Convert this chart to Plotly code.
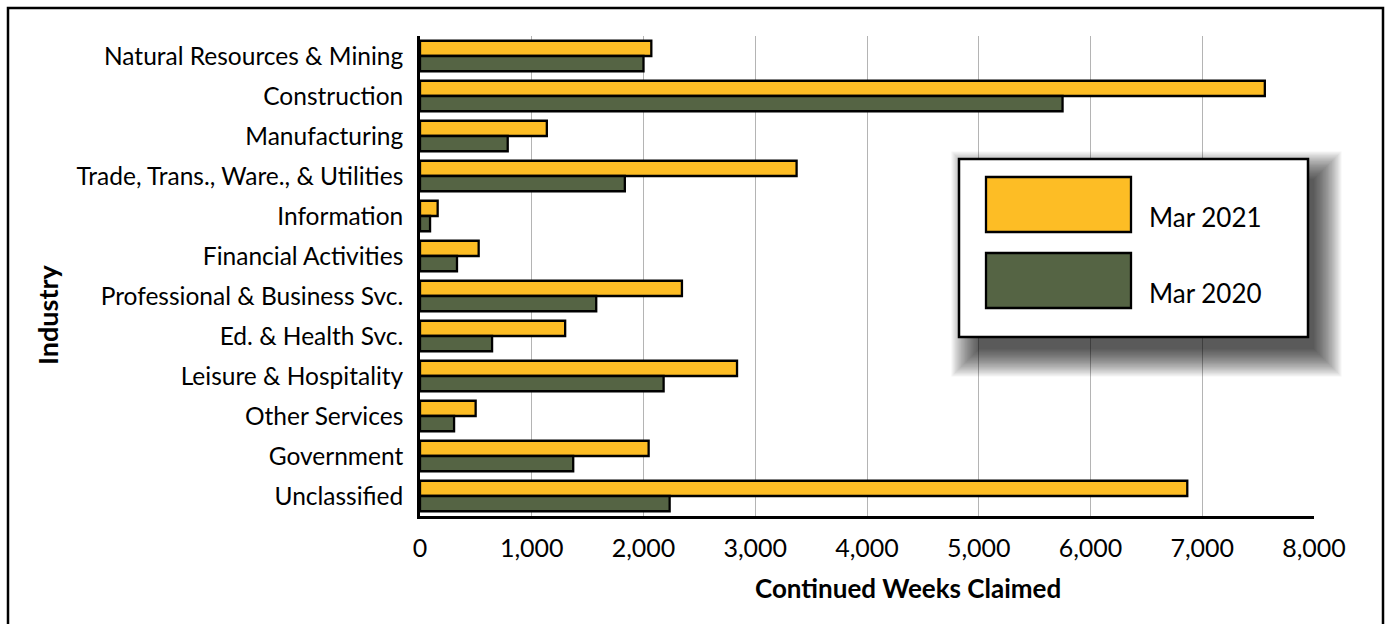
import plotly.graph_objects as go

industries = [
    "Natural Resources & Mining",
    "Construction",
    "Manufacturing",
    "Trade, Trans., Ware., & Utilities",
    "Information",
    "Financial Activities",
    "Professional & Business Svc.",
    "Ed. & Health Svc.",
    "Leisure & Hospitality",
    "Other Services",
    "Government",
    "Unclassified",
]
mar_2021 = [2070, 7560, 1135, 3370, 158, 525, 2344, 1299, 2837, 498, 2046, 6866]
mar_2020 = [2000, 5750, 785, 1833, 90, 331, 1577, 645, 2180, 305, 1371, 2234]
series_names = ["Mar 2021", "Mar 2020"]
x_ticks = [0, 1000, 2000, 3000, 4000, 5000, 6000, 7000, 8000]

YELLOW = "#FDBD25"
GREEN = "#556444"
FONT = "Lato"

W, H = 1390, 624
L, R, T, B = 420, 76, 36, 108
PW, PH = W - L - R, H - T - B


def px(x):
    return (x - L) / PW


def py(y):
    return (H - B - y) / PH


fig = go.Figure()
for name, vals, col in [(series_names[0], mar_2021, YELLOW), (series_names[1], mar_2020, GREEN)]:
    fig.add_trace(go.Bar(
        y=industries, x=vals, name=name, orientation="h",
        marker=dict(color=col, line=dict(color="black", width=2.3)),
        showlegend=False,
    ))

shapes = []
# outer frame
shapes.append(dict(type="rect", xref="paper", yref="paper",
                   x0=px(8), x1=px(1383), y0=py(660), y1=py(8),
                   line=dict(color="black", width=2.5), fillcolor="rgba(0,0,0,0)", layer="above"))

# legend box geometry (pixels)
lx0, lx1, ly0, ly1 = 959, 1308, 159, 337
# soft shadow
for k in range(24):
    e = k * 1.2 - 6
    shapes.append(dict(type="rect", xref="paper", yref="paper",
                       x0=px(lx0 + 14 - e), x1=px(lx1 + 12 + e),
                       y0=py(ly1 + 18 + e), y1=py(ly0 + 14 - e),
                       line=dict(width=0), fillcolor="rgba(0,0,0,0.04)", layer="above"))
shapes.append(dict(type="rect", xref="paper", yref="paper",
                   x0=px(lx0), x1=px(lx1), y0=py(ly1), y1=py(ly0),
                   line=dict(color="black", width=2.5), fillcolor="white", layer="above"))
# swatches
shapes.append(dict(type="rect", xref="paper", yref="paper",
                   x0=px(986), x1=px(1131), y0=py(232), y1=py(177),
                   line=dict(color="black", width=2.3), fillcolor=YELLOW, layer="above"))
shapes.append(dict(type="rect", xref="paper", yref="paper",
                   x0=px(986), x1=px(1131), y0=py(308), y1=py(253),
                   line=dict(color="black", width=2.3), fillcolor=GREEN, layer="above"))

annotations = [
    dict(text=series_names[0], xref="paper", yref="paper", x=px(1147), y=py(217),
         xanchor="left", yanchor="middle", showarrow=False, font=dict(family=FONT, size=26, color="black")),
    dict(text=series_names[1], xref="paper", yref="paper", x=px(1147), y=py(293),
         xanchor="left", yanchor="middle", showarrow=False, font=dict(family=FONT, size=26, color="black")),
    dict(text="<b>Continued Weeks Claimed</b>", xref="paper", yref="paper", x=px(908), y=py(588),
         xanchor="center", yanchor="middle", showarrow=False, font=dict(family=FONT, size=26, color="black")),
    dict(text="<b>Industry</b>", xref="paper", yref="paper", x=px(47), y=py(315),
         xanchor="center", yanchor="middle", showarrow=False, textangle=-90,
         font=dict(family=FONT, size=27, color="black")),
]

fig.update_layout(
    width=W, height=H,
    margin=dict(l=L, r=R, t=T, b=B, pad=0),
    paper_bgcolor="white", plot_bgcolor="white",
    barmode="group", bargap=0.237, bargroupgap=0,
    font=dict(family=FONT, size=24, color="black"),
    shapes=shapes, annotations=annotations,
    xaxis=dict(range=[0, 8000], tickvals=x_ticks, tickformat=",", showgrid=True,
               gridcolor="#b4b4b4", gridwidth=1.3, zeroline=False,
               showline=True, linecolor="black", linewidth=2.5, ticks="",
               ticklabelstandoff=8, tickfont=dict(family=FONT, size=25, color="black")),
    yaxis=dict(autorange="reversed", showgrid=False, zeroline=False,
               showline=True, linecolor="black", linewidth=2.7, ticks="",
               ticklabelstandoff=9, tickfont=dict(family=FONT, size=24.5, color="black")),
)

fig.write_html("out.html", config={"displayModeBar": False},
               post_script="document.body.style.margin='0';")
